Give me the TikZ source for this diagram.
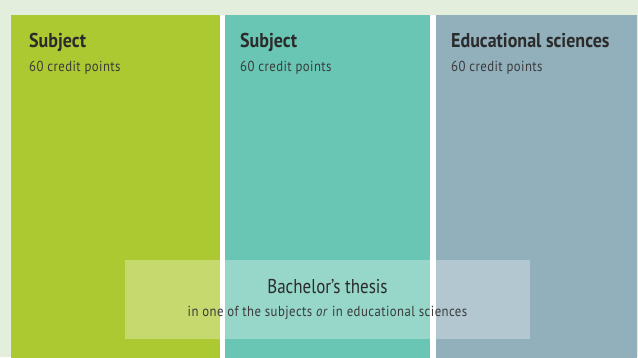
\documentclass[tikz,border=0pt]{standalone}
\usepackage{fontspec}
\setmainfont{PT Sans}
\newfontfamily\cond[FakeStretch=0.9]{PT Sans}
\newfontfamily\condreg[FakeStretch=0.85]{PT Sans}
\newfontfamily\condsub[FakeStretch=0.88,LetterSpace=3]{PT Sans}
\definecolor{bgc}{HTML}{E3EEDD}
\definecolor{cA}{HTML}{ADC932}
\definecolor{cB}{HTML}{69C6B4}
\definecolor{cC}{HTML}{91B0BC}
\definecolor{txt}{HTML}{2B2B2B}
\definecolor{txtb}{HTML}{3A3A3A}
\begin{document}
\begin{tikzpicture}[x=1pt,y=-1pt,
  colbox/.style={anchor=north west, inner sep=0pt, minimum height=343pt},
  ttl/.style={anchor=base west, inner sep=0pt, text=txt, font=\cond\bfseries\fontsize{20}{24}\selectfont},
  sub/.style={anchor=base west, inner sep=0pt, text=txtb, font=\condsub\fontsize{14.5}{17}\selectfont},
  thesisbox/.style={anchor=north west, inner sep=0pt, fill=white, fill opacity=0.3, minimum width=405pt, minimum height=79pt}]
\useasboundingbox (0,0) rectangle (638,357);
\fill[bgc] (0,0) rectangle (638,357);
\fill[white] (219,14.5) rectangle (436,357);
\node[colbox, fill=cA, minimum width=208.3pt] (col1) at (11,14.5) {};
\node[colbox, fill=cB, minimum width=205.5pt] (col2) at (224.5,14.5) {};
\node[colbox, fill=cC, minimum width=201.3pt] (col3) at (435.7,14.5) {};
\node[ttl] (t1) at (29,47.5) {Subject};
\node[sub] (s1) at (29,71) {60 credit points};
\node[ttl] (t2) at (240,47.5) {Subject};
\node[sub] (s2) at (240,71) {60 credit points};
\node[ttl] (t3) at (451,47.5) {Educational sciences};
\node[sub] (s3) at (451,71) {60 credit points};
\node[thesisbox] (thesis) at (125,260) {};
\node[anchor=base, inner sep=0pt, text=txt, font=\condreg\fontsize{20}{24}\selectfont] (th1) at (327.5,293) {Bachelor’s thesis};
\node[anchor=base, inner sep=0pt, text=txtb, font=\condsub\fontsize{14.5}{17}\selectfont] (th2) at (327.5,316.5) {in one of the subjects \textit{or} in educational sciences};
\end{tikzpicture}
\end{document}
